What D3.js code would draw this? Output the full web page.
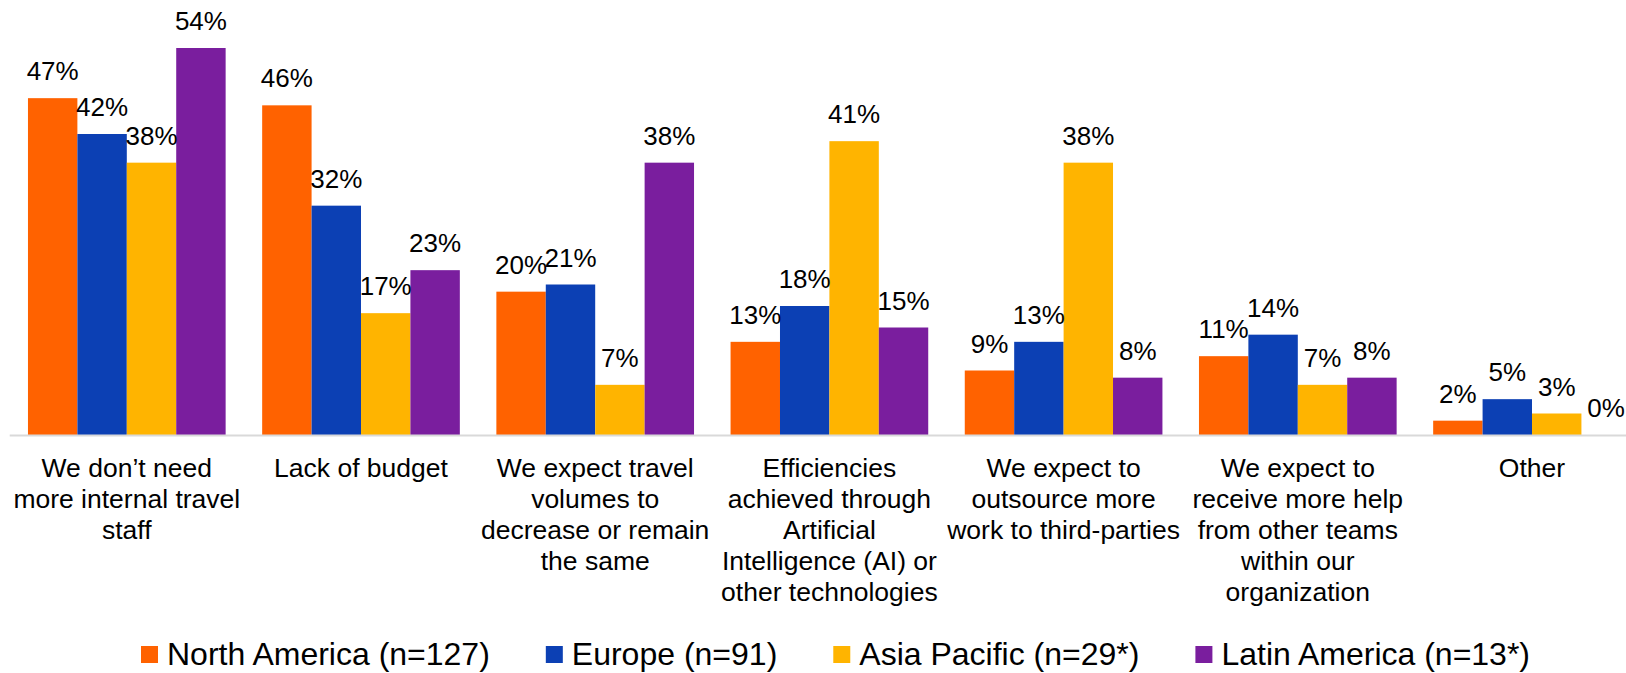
<!DOCTYPE html>
<html>
<head>
<meta charset="utf-8">
<script src="https://cdn.jsdelivr.net/npm/d3@7"></script>
<style>
  html, body { margin: 0; padding: 0; background: #fff; overflow: hidden; }
  svg { display: block; font-family: "Liberation Sans", Arial, sans-serif; }
</style>
</head>
<body>
<svg id="chart" width="1626" height="673"></svg>
<script>
const categories = [
  "We don’t need\nmore internal travel\nstaff",
  "Lack of budget",
  "We expect travel\nvolumes to\ndecrease or remain\nthe same",
  "Efficiencies\nachieved through\nArtificial\nIntelligence (AI) or\nother technologies",
  "We expect to\noutsource more\nwork to third-parties",
  "We expect to\nreceive more help\nfrom other teams\nwithin our\norganization",
  "Other"
];
const seriesNames = ["North America (n=127)", "Europe (n=91)", "Asia Pacific (n=29*)", "Latin America (n=13*)"];
const northAmerica = [47, 46, 20, 13, 9, 11, 2];
const europe       = [42, 32, 21, 18, 13, 14, 5];
const asiaPacific  = [38, 17, 7, 41, 38, 7, 3];
const latinAmerica = [54, 23, 38, 15, 8, 8, 0];
const colors = ["#FF6200", "#0C40B4", "#FFB400", "#7A1E9E"];

const seriesValues = [northAmerica, europe, asiaPacific, latinAmerica];

const svg = d3.select("#chart");
const baseY = 435;
const step = 234.2;
const x0 = 9.7;

const x = d3.scaleBand()
  .domain(categories)
  .range([x0, x0 + step * categories.length])
  .paddingInner(0.156)
  .paddingOuter(0.078);

const xs = d3.scaleBand()
  .domain(seriesNames)
  .range([0, x.bandwidth()])
  .padding(0);

const y = d3.scaleLinear().domain([0, 54]).range([baseY, 48]);

// bars
const groups = svg.append("g").selectAll("g")
  .data(categories)
  .join("g")
  .attr("transform", d => `translate(${x(d)},0)`);

groups.each(function(cat, ci) {
  const g = d3.select(this);
  seriesNames.forEach((s, si) => {
    const v = seriesValues[si][ci];
    g.append("rect")
      .attr("x", xs(s))
      .attr("y", y(v))
      .attr("width", xs.bandwidth())
      .attr("height", baseY - y(v))
      .attr("fill", colors[si]);
  });
});

// axis line
svg.append("line")
  .attr("x1", x0).attr("x2", 1626)
  .attr("y1", baseY + 0.5).attr("y2", baseY + 0.5)
  .attr("stroke", "#D9D9D9").attr("stroke-width", 2);

// value labels
groups.each(function(cat, ci) {
  const g = d3.select(this);
  seriesNames.forEach((s, si) => {
    const v = seriesValues[si][ci];
    g.append("text")
      .attr("x", xs(s) + xs.bandwidth() / 2)
      .attr("y", y(v) - 18)
      .attr("text-anchor", "middle")
      .attr("font-size", 26)
      .attr("fill", "#000")
      .text(v + "%");
  });
});

// category labels
const catG = svg.append("g");
categories.forEach(cat => {
  const lines = cat.split("\n");
  const t = catG.append("text")
    .attr("text-anchor", "middle")
    .attr("font-size", 26.5)
    .attr("fill", "#000");
  lines.forEach((ln, i) => {
    t.append("tspan")
      .attr("x", x(cat) + x.bandwidth() / 2)
      .attr("y", 477 + i * 31)
      .text(ln);
  });
});

// legend
const legend = svg.append("g");
let lx = 141;
seriesNames.forEach((s, i) => {
  legend.append("rect")
    .attr("x", lx).attr("y", 646)
    .attr("width", 17).attr("height", 17)
    .attr("fill", colors[i]);
  const t = legend.append("text")
    .attr("x", lx + 26).attr("y", 665)
    .attr("font-size", 32)
    .attr("fill", "#000")
    .text(s);
  lx = lx + 26 + t.node().getComputedTextLength() + 56;
});
</script>
</body>
</html>
